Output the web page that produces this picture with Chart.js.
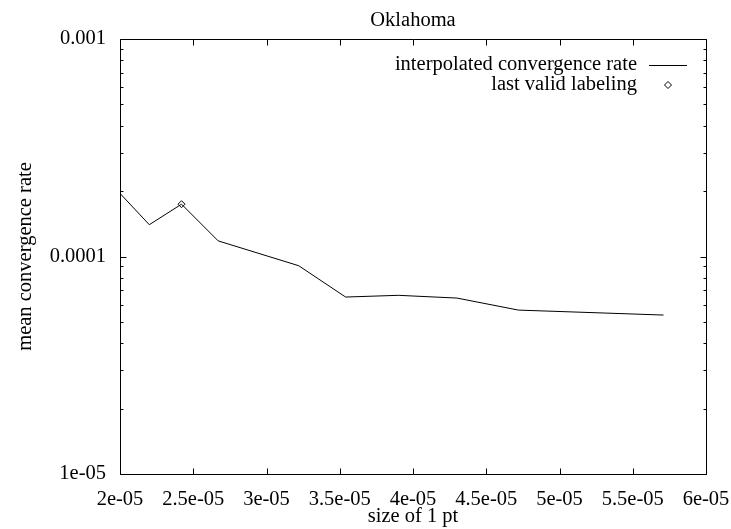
<!DOCTYPE html>
<html>
<head>
<meta charset="utf-8">
<script src="https://cdn.jsdelivr.net/npm/chart.js@4/dist/chart.umd.min.js"></script>
<style>
  html, body { margin: 0; background: #fff; }
  #wrap { width: 731px; height: 529px; }
</style>
</head>
<body>
<div id="wrap"><canvas id="chart"></canvas></div>
<script>
// ── Data ──────────────────────────────────────────────────────────────────────
const sizes = [2.0e-5, 2.2e-5, 2.42e-5, 2.67e-5, 3.22e-5, 3.54e-5, 3.9e-5, 4.3e-5, 4.72e-5, 5.71e-5];
const rates = [1.95e-4, 1.40e-4, 1.74e-4, 1.18e-4, 9.07e-5, 6.51e-5, 6.63e-5, 6.44e-5, 5.67e-5, 5.38e-5];
const lastValidSize = [2.42e-5];
const lastValidRate = [1.74e-4];

const xTicks      = [2e-5, 2.5e-5, 3e-5, 3.5e-5, 4e-5, 4.5e-5, 5e-5, 5.5e-5, 6e-5];
const xTickLabels = ['2e-05', '2.5e-05', '3e-05', '3.5e-05', '4e-05', '4.5e-05', '5e-05', '5.5e-05', '6e-05'];
const yDecades    = [1e-5, 1e-4, 1e-3];
const yTickLabels = ['1e-05', '0.0001', '0.001'];
const yMinorSteps = [2, 3, 4, 5, 6, 7, 8, 9];

const FONT = 'Liberation Serif, Times New Roman, serif';
const FSIZE = 20.5;

// ── Gnuplot-like frame, inward ticks, legend ──────────────────────────────────
const gnuplotFrame = {
  id: 'gnuplotFrame',
  afterDraw(chart) {
    const { ctx, chartArea: a, scales } = chart;
    const L = Math.round(a.left) + 0.5, R = Math.round(a.right) + 0.5;
    const T = Math.round(a.top) + 0.5,  B = Math.round(a.bottom) + 0.5;
    ctx.save();
    ctx.strokeStyle = '#000';
    ctx.lineWidth = 1;
    ctx.beginPath();
    ctx.rect(L, T, R - L, B - T);

    scales.x.ticks.forEach(t => {
      const px = Math.round(scales.x.getPixelForValue(t.value)) + 0.5;
      ctx.moveTo(px, B); ctx.lineTo(px, B - 6);
      ctx.moveTo(px, T); ctx.lineTo(px, T + 6);
    });
    scales.y.ticks.forEach(t => {
      const py = Math.round(scales.y.getPixelForValue(t.value)) + 0.5;
      const len = t.major ? 6 : 3;
      ctx.moveTo(L, py); ctx.lineTo(L + len, py);
      ctx.moveTo(R, py); ctx.lineTo(R - len, py);
    });
    ctx.stroke();

    // legend
    const ds = chart.data.datasets;
    ctx.font = FSIZE + 'px ' + FONT;
    ctx.fillStyle = '#000';
    ctx.textAlign = 'right';
    ctx.textBaseline = 'middle';
    const textX = a.right - 69, row1 = a.top + 26, row2 = a.top + 46;
    ctx.fillText(ds[0].label, textX, row1);
    ctx.fillText(ds[1].label, textX, row2);
    ctx.beginPath();
    ctx.moveTo(a.right - 57, Math.round(row1) + 0.5);
    ctx.lineTo(a.right - 19, Math.round(row1) + 0.5);
    ctx.stroke();
    ctx.fillStyle = '#fff';
    Chart.helpers.drawPoint(ctx, { pointStyle: 'rectRot', radius: 3.5, borderWidth: 1 }, a.right - 38, row2);
    ctx.restore();
  }
};

new Chart(document.getElementById('chart'), {
  type: 'scatter',
  data: {
    datasets: [
      {
        label: 'interpolated convergence rate',
        data: sizes.map((s, i) => ({ x: s, y: rates[i] })),
        showLine: true,
        borderColor: '#000',
        borderWidth: 1,
        pointRadius: 0,
        tension: 0,
      },
      {
        label: 'last valid labeling',
        data: lastValidSize.map((s, i) => ({ x: s, y: lastValidRate[i] })),
        showLine: false,
        pointStyle: 'rectRot',
        pointRadius: 3.5,
        borderColor: '#000',
        backgroundColor: '#fff',
        borderWidth: 1,
      },
    ]
  },
  options: {
    responsive: true, maintainAspectRatio: false, animation: false,
    layout: { padding: { left: 0, right: 25, top: 0, bottom: 0 } },
    plugins: {
      legend: { display: false },
      tooltip: { enabled: false },
      title: {
        display: true, text: 'Oklahoma', fullSize: false, color: '#000',
        font: { family: FONT, size: FSIZE, weight: 'normal', lineHeight: 1.2 },
        padding: { top: 8, bottom: 6.4 },
      },
    },
    scales: {
      x: {
        type: 'linear', min: 2e-5, max: 6e-5,
        grid: { display: false }, border: { display: false },
        afterBuildTicks: s => { s.ticks = xTicks.map(v => ({ value: v })); },
        afterFit: s => { s.height = 55; s.paddingLeft = 0; s.paddingRight = 0; },
        ticks: {
          autoSkip: false, maxRotation: 0, color: '#000', padding: 5,
          font: { family: FONT, size: FSIZE },
          callback: (v, i) => xTickLabels[i],
        },
        title: {
          display: true, text: 'size of 1 pt', color: '#000',
          font: { family: FONT, size: FSIZE, lineHeight: 1.2 },
          padding: { top: 0, bottom: 0 },
        },
      },
      y: {
        type: 'logarithmic', min: 1e-5, max: 1e-3,
        grid: { display: false }, border: { display: false },
        afterBuildTicks: s => {
          const ticks = [];
          yDecades.forEach((d, i) => {
            ticks.push({ value: d, major: true });
            if (i < yDecades.length - 1) yMinorSteps.forEach(m => ticks.push({ value: d * m, major: false }));
          });
          s.ticks = ticks;
        },
        afterFit: s => { s.width = 120; s.paddingTop = 0; s.paddingBottom = 0; },
        ticks: {
          autoSkip: false, color: '#000', padding: 6,
          font: { family: FONT, size: FSIZE },
          callback: v => {
            const i = yDecades.findIndex(d => Math.abs(d - v) / d < 1e-6);
            return i >= 0 ? yTickLabels[i] : '';
          },
        },
        title: {
          display: true, text: 'mean convergence rate', color: '#000',
          font: { family: FONT, size: FSIZE, lineHeight: 1.2 },
          padding: { top: 13, bottom: 0 },
        },
      },
    },
  },
  plugins: [gnuplotFrame],
});
</script>
</body>
</html>
